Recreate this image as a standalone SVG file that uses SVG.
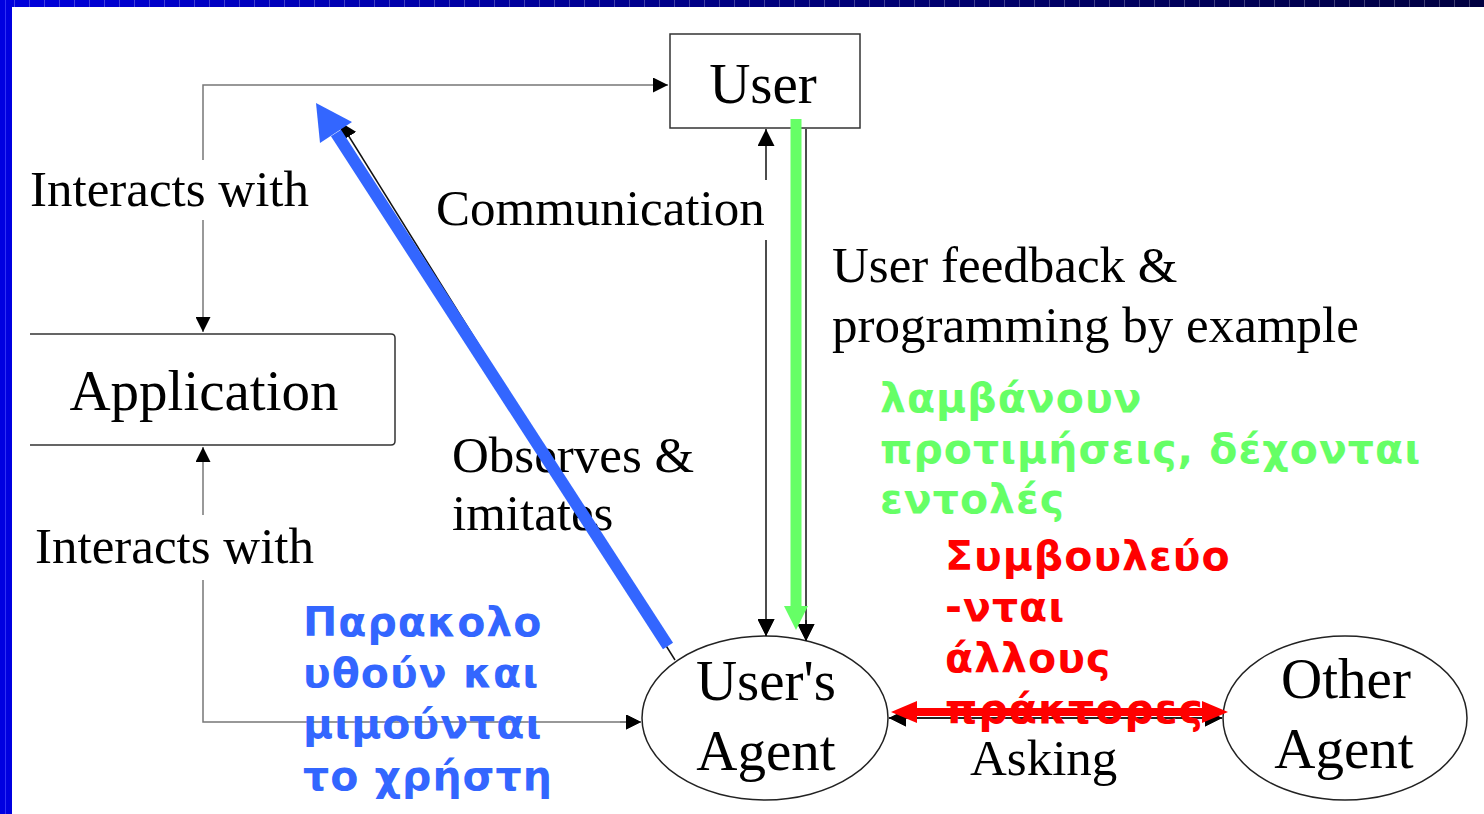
<svg xmlns="http://www.w3.org/2000/svg" width="1484" height="814" viewBox="0 0 1484 814">
  <defs>
    <linearGradient id="topband" x1="0" y1="0" x2="1" y2="0">
      <stop offset="0" stop-color="#0000dd"/>
      <stop offset="0.5" stop-color="#000080"/>
      <stop offset="1" stop-color="#000040"/>
    </linearGradient>
    <pattern id="tiles" x="0" y="0" width="15" height="7" patternUnits="userSpaceOnUse">
      <rect x="14" y="0" width="1" height="7" fill="#ffffff" fill-opacity="0.25"/>
    </pattern>
    <marker id="tri" viewBox="0 0 15 15" refX="15" refY="7.5" markerWidth="15" markerHeight="15" markerUnits="userSpaceOnUse" orient="auto-start-reverse">
      <path d="M0,0 L15,7.5 L0,15 z" fill="#000"/>
    </marker>
    <marker id="triBig" viewBox="0 0 17 17" refX="17" refY="8.5" markerWidth="17" markerHeight="17" markerUnits="userSpaceOnUse" orient="auto-start-reverse">
      <path d="M0,0 L17,8.5 L0,17 z" fill="#000"/>
    </marker>
  </defs>
  <style>
    .node-box { fill: none; stroke: #333; stroke-width: 1.5; }
    .node-ell { fill: #fff; stroke: #222; stroke-width: 1.5; }
    .node-text { font-family: "Liberation Serif", "Times New Roman", serif; font-size: 57px; fill: #000; }
    .edge-text { font-family: "Liberation Serif", "Times New Roman", serif; font-size: 51px; fill: #000; }
    .wire { fill: none; stroke: #777; stroke-width: 1.5; }
    .wire-dark { fill: none; stroke: #111; stroke-width: 1.5; }
    .note { font-family: "DejaVu Sans", "Noto Sans", sans-serif; font-size: 41px; font-weight: bold; letter-spacing: 1px; }
    .note-blue { fill: #3366ff; }
    .note-green { fill: #66ff66; }
    .note-red { fill: #ff0000; }
  </style>

  <!-- slide background and frame bands -->
  <rect x="0" y="0" width="1484" height="814" fill="#ffffff"/>
  <rect x="0" y="0" width="1484" height="7" fill="url(#topband)"/>
  <rect x="0" y="0" width="1484" height="7" fill="url(#tiles)"/>
  <rect x="0" y="0" width="12" height="814" fill="#0000e0"/>
  <rect x="5" y="0" width="1" height="814" fill="#5050ff" fill-opacity="0.6"/>

  <!-- connectors -->
  <g id="connectors">
    <!-- Application -> User (via top) -->
    <path class="wire" d="M203,160 L203,85 L668,85" marker-end="url(#tri)"/>
    <path class="wire" d="M203,220 L203,332" marker-end="url(#tri)"/>
    <!-- Agent -> Application (via bottom) -->
    <path class="wire" d="M203,580 L203,722 L641,722" marker-end="url(#tri)"/>
    <path class="wire" d="M203,515 L203,447" marker-end="url(#tri)"/>
    <!-- Communication (two-way) -->
    <path class="wire-dark" d="M766,180 L766,129" marker-end="url(#triBig)"/>
    <path class="wire-dark" d="M766,240 L766,636" marker-end="url(#triBig)"/>
    <!-- User feedback & programming by example -->
    <path class="wire-dark" d="M806,129 L806,641" marker-end="url(#triBig)"/>
    <!-- Observes & imitates -->
    <path class="wire-dark" d="M675,660 L340,122" marker-end="url(#triBig)"/>
    <!-- Asking (two-way) -->
    <path class="wire-dark" d="M889,718 L1222,718" marker-start="url(#triBig)" marker-end="url(#triBig)"/>
  </g>

  <!-- nodes -->
  <g id="user">
    <rect class="node-box" x="670" y="34" width="190" height="94"/>
    <text class="node-text" x="763" y="103" text-anchor="middle">User</text>
  </g>
  <g id="application">
    <path class="node-box" d="M30,334 L391,334 Q395,334 395,338 L395,441 Q395,445 391,445 L30,445"/>
    <text class="node-text" x="204" y="410" text-anchor="middle">Application</text>
  </g>
  <g id="users-agent">
    <ellipse class="node-ell" cx="765" cy="718" rx="123" ry="82"/>
    <text class="node-text" x="766" y="700" text-anchor="middle">User's</text>
    <text class="node-text" x="766" y="770" text-anchor="middle">Agent</text>
  </g>
  <g id="other-agent">
    <ellipse class="node-ell" cx="1345" cy="718" rx="122" ry="82"/>
    <text class="node-text" x="1346" y="698" text-anchor="middle">Other</text>
    <text class="node-text" x="1344" y="768" text-anchor="middle">Agent</text>
  </g>

  <!-- connector ends drawn again over the ellipse fill -->
  <g id="connector-ends">
    <path class="wire" d="M620,722 L641,722" marker-end="url(#tri)"/>
    <path class="wire-dark" d="M766,620 L766,636" marker-end="url(#triBig)"/>
    <path class="wire-dark" d="M806,620 L806,641" marker-end="url(#triBig)"/>
    <path class="wire-dark" d="M889,718 L1222,718" marker-start="url(#triBig)" marker-end="url(#triBig)"/>
  </g>

  <!-- edge labels -->
  <g id="edge-labels">
    <text class="edge-text" x="30" y="206">Interacts with</text>
    <text class="edge-text" x="35" y="563">Interacts with</text>
    <text class="edge-text" x="436" y="225">Communication</text>
    <text class="edge-text" x="832" y="282">User feedback &amp;</text>
    <text class="edge-text" x="832" y="342">programming by example</text>
    <text class="edge-text" x="452" y="472">Observes &amp;</text>
    <text class="edge-text" x="452" y="530">imitates</text>
    <text class="edge-text" x="970" y="775">Asking</text>
  </g>

  <!-- annotations -->
  <g id="note-blue" class="note note-blue">
    <text x="303" y="636">Παρακολο</text>
    <text x="303" y="687">υθούν και</text>
    <text x="303" y="738">μιμούνται</text>
    <text x="303" y="790">το χρήστη</text>
  </g>
  <g id="note-green" class="note note-green">
    <text x="880" y="412">λαμβάνουν</text>
    <text x="880" y="463">προτιμήσεις, δέχονται</text>
    <text x="880" y="513">εντολές</text>
  </g>
  <g id="note-red" class="note note-red">
    <text x="945" y="570">Συμβουλεύο</text>
    <text x="945" y="621">-νται</text>
    <text x="945" y="672">άλλους</text>
    <text x="945" y="723">πράκτορες</text>
  </g>

  <!-- highlight arrows -->
  <g id="highlights">
    <!-- blue: agent observes the user -->
    <line x1="668" y1="646" x2="336" y2="133" stroke="#3366ff" stroke-width="12"/>
    <polygon points="316,103 320,143 352,122" fill="#3366ff"/>
    <!-- green: user to agent -->
    <line x1="796" y1="119" x2="796" y2="608" stroke="#66ff66" stroke-width="11"/>
    <polygon points="784,606 808,606 796,630" fill="#66ff66"/>
    <!-- red: agent to agent -->
    <line x1="915" y1="712" x2="1203" y2="712" stroke="#ff0000" stroke-width="8"/>
    <polygon points="891,712 917,701 917,723" fill="#ff0000"/>
    <polygon points="1228,712 1202,701 1202,723" fill="#ff0000"/>
  </g>
</svg>
